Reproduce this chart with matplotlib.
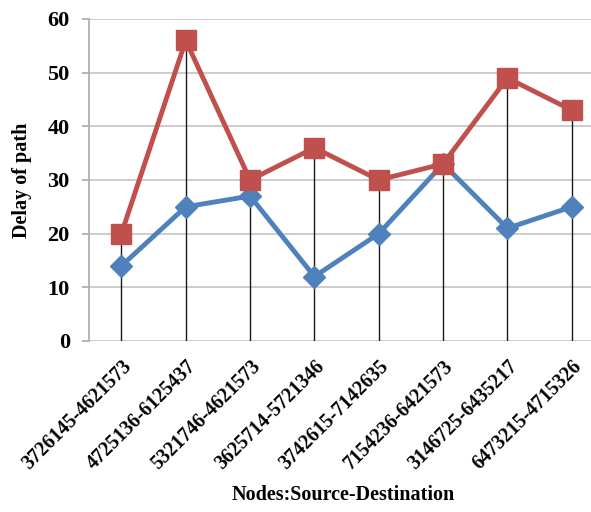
import numpy as np
import matplotlib.pyplot as plt

# path delay per source-destination pair
pairs = ['3726145-4621573', '4725136-6125437', '5321746-4621573', '3625714-5721346',
         '3742615-7142635', '7154236-6421573', '3146725-6435217', '6473215-4715326']
delay_a = [14, 25, 27, 12, 20, 33, 21, 25]
delay_b = [20, 56, 30, 36, 30, 33, 49, 43]

plt.rcParams['font.family'] = ['Liberation Serif', 'DejaVu Serif']
plt.rcParams['font.weight'] = 'bold'

fig = plt.figure(figsize=(5.91, 5.12), dpi=100)
ax = fig.add_axes([0.151, 0.334, 0.86, 0.629])

x = np.arange(len(pairs))
top = np.maximum(delay_a, delay_b)

# drop lines from the highest point to the axis
ax.vlines(x, 0, top, colors='#1a1a1a', lw=1.0, zorder=2)

ax.plot(x, delay_a, color='#4F81BD', lw=3.5, marker='D', ms=11.5,
        markeredgecolor='#4F81BD', zorder=3)
ax.plot(x, delay_b, color='#C0504D', lw=3.5, marker='s', ms=14.5,
        markeredgecolor='#C0504D', zorder=4)

ax.set_xlim(-0.5, 7.4)
ax.set_ylim(0, 60)
ax.set_yticks(range(0, 61, 10))
ax.grid(axis='y', color='#c8c8c8', lw=1.3, zorder=0)
ax.set_axisbelow(True)

for s in ['top', 'right', 'bottom']:
    ax.spines[s].set_visible(False)
ax.spines['left'].set_color('#b0b0b0')
ax.spines['left'].set_linewidth(1.3)

ax.tick_params(axis='y', length=5, color='#b0b0b0', width=1.3, labelsize=16, pad=9)
ax.tick_params(axis='x', length=0, labelsize=14.3, pad=11)
ax.set_xticks(x)
ax.set_xticklabels(pairs, rotation=45, ha='right', rotation_mode='anchor')
for lbl in ax.get_xticklabels() + ax.get_yticklabels():
    lbl.set_fontweight('bold')

ax.set_ylabel('Delay of path', fontsize=14.5, fontweight='bold')
ax.yaxis.set_label_coords(-0.112, 0.5)
fig.text(0.58, 0.033, 'Nodes:Source-Destination', ha='center', va='center',
         fontsize=14.5, fontweight='bold')

fig.savefig('out.png', dpi=100)
